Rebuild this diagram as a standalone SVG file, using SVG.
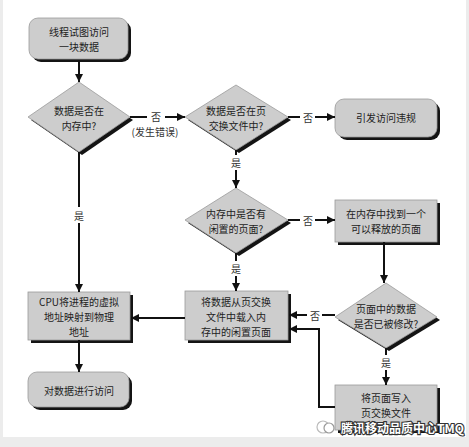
<svg xmlns="http://www.w3.org/2000/svg" width="469" height="447" viewBox="0 0 469 447">
<style>
.bg{fill:#ececec}
.page{fill:#ffffff}
.shadow{fill:#141414}
.node{fill:#cdcdcd;stroke:#9a9a9a;stroke-width:0.8}
text{font-family:"Noto Sans CJK SC","Noto Sans",sans-serif;font-size:10px;fill:#222;text-anchor:middle;dominant-baseline:central}
.lbl{font-size:10px;fill:#333}
.conn{fill:none;stroke:#111;stroke-width:2}
.wm{font-size:12px;fill:#ffffff;stroke:#333;stroke-width:2.2;paint-order:stroke;text-anchor:start;font-weight:bold}
</style>
<defs>
<marker id="ah" viewBox="0 0 10 10" refX="10" refY="5" markerWidth="4.2" markerHeight="4.2" orient="auto" markerUnits="strokeWidth">
<path d="M0,0 L10,5 L0,10 z" fill="#111"/>
</marker>
</defs>
<rect class="bg" x="0" y="0" width="469" height="447"/>
<rect class="page" x="3" y="0" width="463" height="437"/>

<g id="n1">
<rect class="shadow" x="32" y="21" width="99" height="41" rx="9"/>
<rect class="node" x="29" y="18" width="99" height="41" rx="9"/>
<text x="79" y="31">线程试图访问</text>
<text x="79" y="46">一块数据</text>
</g>

<g id="d1">
<polygon class="shadow" points="82,86 133,120 82,155 31,120"/>
<polygon class="node" points="79,82 130,117 79,152 28,117"/>
<text x="79" y="110">数据是否在</text>
<text x="79" y="125">内存中?</text>
</g>

<g id="d2">
<polygon class="shadow" points="239,88 291,120 239,153 188,120"/>
<polygon class="node" points="236,85 288,117 236,150 185,117"/>
<text x="236" y="110">数据是否在页</text>
<text x="236" y="125">交换文件中?</text>
</g>

<g id="n2">
<rect class="shadow" x="338" y="102" width="102" height="38" rx="9"/>
<rect class="node" x="335" y="99" width="102" height="38" rx="9"/>
<text x="386" y="117">引发访问违规</text>
</g>

<g id="d3">
<polygon class="shadow" points="239,191 291,223 239,256 188,223"/>
<polygon class="node" points="236,188 288,220 236,253 185,220"/>
<text x="236" y="213">内存中是否有</text>
<text x="236" y="228">闲置的页面?</text>
</g>

<g id="n3">
<rect class="shadow" x="338" y="203" width="102" height="42"/>
<rect class="node" x="335" y="200" width="102" height="42"/>
<text x="386" y="213">在内存中找到一个</text>
<text x="386" y="228">可以释放的页面</text>
</g>

<g id="d4">
<polygon class="shadow" points="389,286 440,320 389,351 338,320"/>
<polygon class="node" points="386,283 437,317 386,348 335,317"/>
<text x="386" y="308">页面中的数据</text>
<text x="386" y="323">是否已被修改?</text>
</g>

<g id="n4">
<rect class="shadow" x="338" y="388" width="102" height="45"/>
<rect class="node" x="335" y="385" width="102" height="45"/>
<text x="386" y="397">将页面写入</text>
<text x="386" y="412">页交换文件</text>
</g>

<g id="n5">
<rect class="shadow" x="188" y="294" width="103" height="49"/>
<rect class="node" x="185" y="291" width="103" height="49"/>
<text x="236" y="301">将数据从页交换</text>
<text x="236" y="316">文件中载入内</text>
<text x="236" y="331">存中的闲置页面</text>
</g>

<g id="n6">
<rect class="shadow" x="31" y="295" width="102" height="48"/>
<rect class="node" x="28" y="292" width="102" height="48"/>
<text x="79" y="301">CPU将进程的虚拟</text>
<text x="79" y="316">地址映射到物理</text>
<text x="79" y="331">地址</text>
</g>

<g id="n7">
<rect class="shadow" x="31" y="375" width="101" height="35" rx="9"/>
<rect class="node" x="28" y="372" width="101" height="35" rx="9"/>
<text x="79" y="390">对数据进行访问</text>
</g>

<g id="connectors">
<path class="conn" d="M79,60 L79,82" marker-end="url(#ah)"/>
<path class="conn" d="M130,117 L147,117"/>
<path class="conn" d="M165,117 L185,117" marker-end="url(#ah)"/>
<text class="lbl" x="156" y="116">否</text>
<text class="lbl" x="155" y="131">(发生错误)</text>
<path class="conn" d="M288,117 L300,117"/>
<path class="conn" d="M315,117 L335,117" marker-end="url(#ah)"/>
<text class="lbl" x="308" y="117">否</text>
<path class="conn" d="M236,150 L236,155"/>
<path class="conn" d="M236,170 L236,188" marker-end="url(#ah)"/>
<text class="lbl" x="236" y="162">是</text>
<path class="conn" d="M288,220 L300,220"/>
<path class="conn" d="M315,220 L335,220" marker-end="url(#ah)"/>
<text class="lbl" x="308" y="220">否</text>
<path class="conn" d="M236,253 L236,261"/>
<path class="conn" d="M236,276 L236,291" marker-end="url(#ah)"/>
<text class="lbl" x="236" y="268">是</text>
<path class="conn" d="M79,152 L79,207"/>
<path class="conn" d="M79,223 L79,292" marker-end="url(#ah)"/>
<text class="lbl" x="79" y="215">是</text>
<path class="conn" d="M185,318 L131,318" marker-end="url(#ah)"/>
<path class="conn" d="M79,340 L79,372" marker-end="url(#ah)"/>
<path class="conn" d="M384,242 L384,283" marker-end="url(#ah)"/>
<path class="conn" d="M335,315 L322,315"/>
<path class="conn" d="M307,315 L289,315" marker-end="url(#ah)"/>
<text class="lbl" x="315" y="315">否</text>
<path class="conn" d="M386,348 L386,355"/>
<path class="conn" d="M386,370 L386,385" marker-end="url(#ah)"/>
<text class="lbl" x="386" y="362">是</text>
<path class="conn" d="M335,407 L319,407 L319,329 L289,329" marker-end="url(#ah)"/>
</g>

<g id="watermark">
<circle cx="323" cy="427" r="6" fill="none" stroke="#bbb" stroke-width="1.2"/>
<circle cx="329" cy="428" r="5" fill="#fff" stroke="#999" stroke-width="1.2"/>
<text class="wm" x="341" y="427">腾讯移动品质中心TMQ</text>
</g>
</svg>
